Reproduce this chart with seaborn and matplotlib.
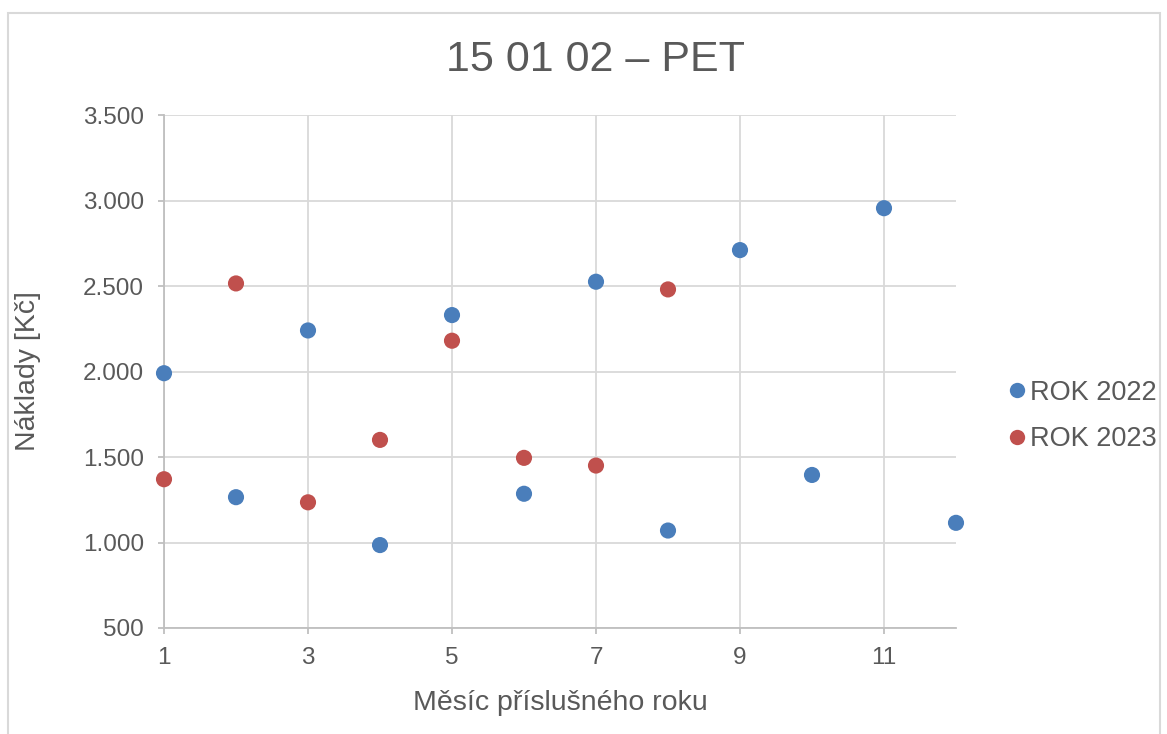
import pandas as pd
import matplotlib.pyplot as plt
import matplotlib.patches as patches
import seaborn as sns

# Data
mesice_2022 = [1, 2, 3, 4, 5, 6, 7, 8, 9, 10, 11, 12]
naklady_2022 = [1990, 1265, 2240, 985, 2330, 1285, 2525, 1070, 2710, 1395, 2955, 1115]
mesice_2023 = [1, 2, 3, 4, 5, 6, 7, 8]
naklady_2023 = [1370, 2515, 1235, 1600, 2180, 1495, 1450, 2480]
rady = ['ROK 2022', 'ROK 2023']
barvy = ['#4A7EBB', '#C0504D']

df = pd.concat([
    pd.DataFrame({'Mesic': mesice_2022, 'Naklady': naklady_2022, 'Rada': rady[0]}),
    pd.DataFrame({'Mesic': mesice_2023, 'Naklady': naklady_2023, 'Rada': rady[1]}),
])

sns.set_style('white')
plt.rcParams['font.family'] = ['Liberation Sans', 'DejaVu Sans']
text_color = '#595959'
grid_color = '#D9D9D9'

fig = plt.figure(figsize=(11.67, 7.34), dpi=100)
ax = fig.add_axes([164 / 1167, 1 - 628 / 734, (956 - 164) / 1167, (628 - 115) / 734])

sns.scatterplot(data=df, x='Mesic', y='Naklady', hue='Rada', palette=barvy,
                s=135, edgecolor='none', ax=ax, zorder=3, clip_on=False)

ax.set_xlim(1, 12)
ax.set_ylim(500, 3500)
ax.set_xticks([1, 3, 5, 7, 9, 11])
ax.set_yticks(range(500, 3501, 500))
ax.set_yticklabels([f'{v:,}'.replace(',', '.') for v in range(500, 3501, 500)])
ax.grid(True, color=grid_color, linewidth=1.3, zorder=0)
ax.set_axisbelow(True)

for side in ['top', 'right']:
    ax.spines[side].set_visible(False)
for side in ['left', 'bottom']:
    ax.spines[side].set_color('#BFBFBF')
    ax.spines[side].set_linewidth(1.3)

ax.tick_params(axis='both', colors='#BFBFBF', labelcolor=text_color, labelsize=17.5,
               length=4.5, width=1.3, direction='out')
ax.tick_params(axis='y', pad=10)
ax.tick_params(axis='x', pad=9)
ax.tick_params(left=True, bottom=True)

ax.set_xlabel('Měsíc příslušného roku', fontsize=20.5, color=text_color, labelpad=15)
ax.set_ylabel('Náklady [Kč]', fontsize=20.5, color=text_color, labelpad=30)
fig.text(595 / 1167, 1 - 60 / 734, '15 01 02 – PET', fontsize=31, color=text_color,
         ha='center', va='center')

leg = ax.legend(loc='center left', bbox_to_anchor=(1.063, 0.413), frameon=False,
                fontsize=19.5, borderaxespad=0, borderpad=0, handlelength=0.8,
                handletextpad=0.1, labelspacing=0.75, markerscale=0.95)
for t in leg.get_texts():
    t.set_color(text_color)

# outer chart frame
fig.patches.append(patches.Rectangle((8 / 1167, -0.05), (1160 - 8) / 1167, 1.05 - 13 / 734,
                                     transform=fig.transFigure, fill=False,
                                     edgecolor='#D9D9D9', linewidth=1.5))

fig.savefig('out.png', dpi=100)
